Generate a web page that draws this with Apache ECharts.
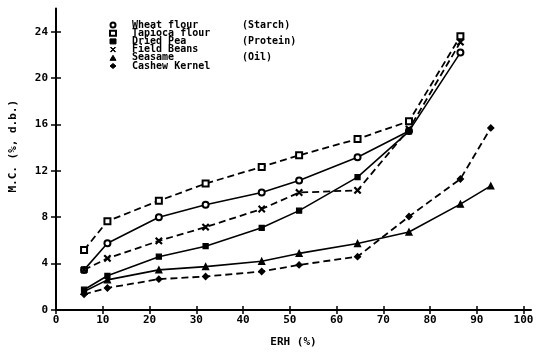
<!DOCTYPE html>
<html><head><meta charset="utf-8">
<script src="https://cdn.jsdelivr.net/npm/echarts@6/dist/echarts.min.js"></script>
<style>html,body{margin:0;padding:0;background:#fff}#c{width:539px;height:353px}</style>
</head><body><div id="c"></div>
<script>
const erh = [6, 11, 22, 32, 44, 52, 64.5, 75.5, 86.5, 93];
const seriesNames = ['Wheat flour', 'Tapioca flour', 'Dried Pea', 'Field Beans', 'Seasame', 'Cashew Kernel'];
const groupLabels = ['(Starch)', '', '(Protein)', '', '(Oil)', ''];
const wheatFlour = [3.46, 5.75, 8.0, 9.08, 10.13, 11.17, 13.17, 15.43, 22.2];
const tapiocaFlour = [5.17, 7.66, 9.42, 10.9, 12.34, 13.34, 14.75, 16.28, 23.6];
const driedPea = [1.75, 2.95, 4.6, 5.5, 7.09, 8.57, 11.46, 15.4];
const fieldBeans = [3.46, 4.45, 5.96, 7.15, 8.71, 10.13, 10.32, 15.6, 23.1];
const seasame = [1.6, 2.6, 3.46, 3.74, 4.2, 4.88, 5.73, 6.72, 9.13, 10.7];
const cashewKernel = [1.35, 1.9, 2.66, 2.89, 3.32, 3.89, 4.6, 8.06, 11.3, 15.7];
const xTicks = [0, 10, 20, 30, 40, 50, 60, 70, 80, 90, 100];
const yTicks = [0, 4, 8, 12, 16, 20, 24];
const xName = 'ERH (%)';
const yName = 'M.C. (%, d.b.)';

const FONT = 'DejaVu Sans Mono';
const xShape = 'path://M0,1L1,0L5,4L9,0L10,1L6,5L10,9L9,10L5,6L1,10L0,9L4,5Z';
const allValues = [wheatFlour, tapiocaFlour, driedPea, fieldBeans, seasame, cashewKernel];
const symbols = ['emptyCircle', 'emptyRect', 'rect', xShape, 'triangle', 'diamond'];
const symbolSizes = [6, 6, 5, 6, 6, 6];
const dashed = [false, true, false, true, false, true];

const chart = echarts.init(document.getElementById('c'), null, {renderer: 'canvas'});
const series = seriesNames.map((name, i) => ({
  name: name,
  type: 'line',
  xAxisIndex: 0, yAxisIndex: 0,
  data: allValues[i].map((v, j) => [erh[j], v]),
  symbol: symbols[i],
  symbolSize: symbolSizes[i],
  showAllSymbol: true,
  itemStyle: {color: '#000', borderColor: '#000', borderWidth: 1.3},
  lineStyle: {color: '#000', width: dashed[i] ? 1.8 : 1.6, type: dashed[i] ? [7, 4] : 'solid'},
  z: 3
}));

const xMax = 101.6, yMax = 26;
const baseAxisText = {color: '#000', fontFamily: FONT, fontWeight: 'bold', fontSize: 11};
chart.setOption({
  animation: false,
  backgroundColor: '#fff',
  grid: {left: 53, right: 8, top: 8.5, bottom: 39},
  legend: {
    orient: 'vertical',
    left: 109, top: 20, padding: 0,
    itemWidth: 6, itemHeight: 5, itemGap: -1.8,
    itemStyle: {borderWidth: 1},
    data: seriesNames.map((n, i) => ({name: n, icon: symbols[i]})),
    formatter: name => {
      const i = seriesNames.indexOf(name);
      return '{n|' + name + '}' + (groupLabels[i] ? '{g|' + groupLabels[i] + '}' : '');
    },
    textStyle: {
      color: '#000', fontFamily: FONT, fontWeight: 'bold', fontSize: 10,
      rich: {
        n: {width: 110, padding: [0, 0, 0, 11], fontFamily: FONT, fontWeight: 'bold', fontSize: 10, lineHeight: 7},
        g: {fontFamily: FONT, fontWeight: 'bold', fontSize: 10, lineHeight: 7}
      }
    },
    selectedMode: false
  },
  xAxis: [{
    type: 'value', min: 0, max: xMax,
    name: xName, nameLocation: 'middle', nameGap: 27,
    nameTextStyle: baseAxisText,
    axisLine: {show: true, lineStyle: {color: '#000', width: 2}},
    axisTick: {show: true, length: 4, customValues: xTicks, lineStyle: {color: '#000', width: 1.5}},
    axisLabel: Object.assign({margin: 5, customValues: xTicks}, baseAxisText),
    splitLine: {show: false}
  }, {
    type: 'value', min: 0, max: xMax, position: 'bottom',
    axisLine: {show: false},
    axisTick: {show: true, inside: true, length: 4, customValues: xTicks, lineStyle: {color: '#000', width: 1.5}},
    axisLabel: {show: false}, splitLine: {show: false}
  }],
  yAxis: [{
    type: 'value', min: 0, max: yMax,
    name: yName, nameLocation: 'middle', nameGap: 37, nameRotate: 90,
    nameTextStyle: Object.assign({padding: [0, 0, 0, 26]}, baseAxisText),
    axisLine: {show: true, lineStyle: {color: '#000', width: 2}},
    axisTick: {show: true, length: 5, customValues: yTicks, lineStyle: {color: '#000', width: 1.5}},
    axisLabel: Object.assign({margin: 8, customValues: yTicks}, baseAxisText),
    splitLine: {show: false}
  }, {
    type: 'value', min: 0, max: yMax, position: 'left',
    axisLine: {show: false},
    axisTick: {show: true, inside: true, length: 5, customValues: yTicks, lineStyle: {color: '#000', width: 1.5}},
    axisLabel: {show: false}, splitLine: {show: false}
  }],
  series: series
});
</script>
</body></html>
